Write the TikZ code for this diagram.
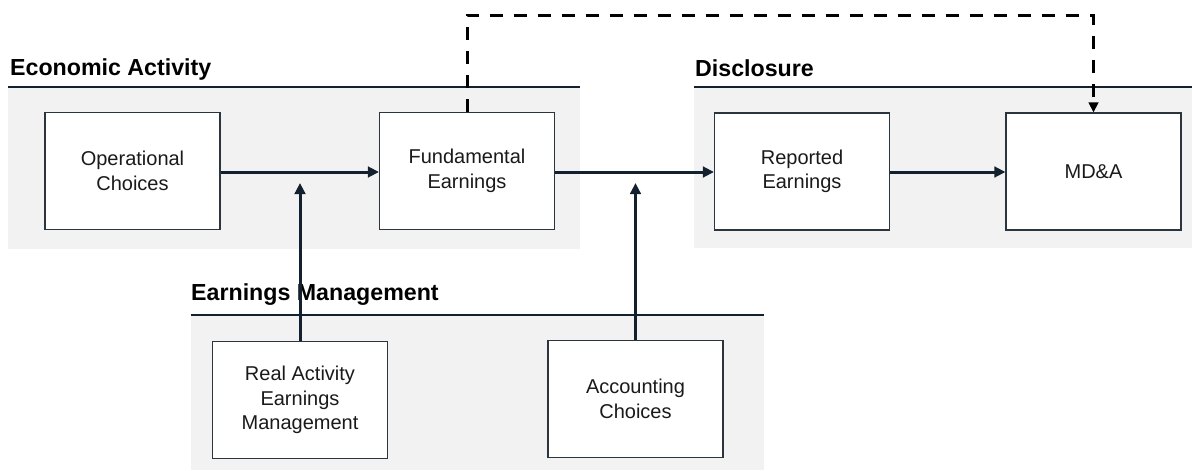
\documentclass[tikz,border=0pt]{standalone}
\usepackage{fontspec}
\setmainfont{Liberation Sans}
\usetikzlibrary{arrows.meta}
\definecolor{panelgray}{HTML}{F2F2F2}
\definecolor{navy}{HTML}{13202D}
\definecolor{boxline}{HTML}{2B3540}
\definecolor{txt}{HTML}{1A1A1A}
\tikzset{
  panel/.style={fill=panelgray, draw=none},
  panelrule/.style={draw=navy, line width=1.6pt},
  paneltitle/.style={anchor=base west, inner sep=0pt, text=black,
    font=\fontsize{23.2}{27}\selectfont\bfseries},
  stagebox/.style={draw=boxline, line width=1.1pt, fill=white,
    minimum width=175pt, minimum height=117pt, inner sep=0pt,
    align=center, text=txt, font=\fontsize{20}{24.5}\selectfont},
  flow/.style={draw=navy, line width=3pt,
    -{Triangle[length=11pt,width=10.5pt]}},
  feedback/.style={draw=black, line width=3pt, dash pattern=on 13pt off 11pt,
    -{Triangle[length=10pt,width=9.5pt]}}
}
\begin{document}
\begin{tikzpicture}[x=1pt, y=-1pt]
  \useasboundingbox (0,0) rectangle (1192,471);
  \fill[white] (0,0) rectangle (1192,471);

  % Shaded panels with their header rules
  \path[panel] (8,87) rectangle (580,249);
  \draw[panelrule] (8,87) -- (580,87);
  \path[panel] (694,87) rectangle (1192,248);
  \draw[panelrule] (694,87) -- (1192,87);
  \path[panel] (191,315) rectangle (764,470);
  \draw[panelrule] (191,315) -- (764,315);

  % Panel titles
  \node[paneltitle] (tEcon) at (10,75) {Economic Activity};
  \node[paneltitle] (tDisc) at (695,76) {Disclosure};
  \node[paneltitle] (tEM) at (191,300) {Earnings Management};

  % Stages
  \node[stagebox] (oc)  at (132.5,171) {Operational\\Choices};
  \node[stagebox] (fe)  at (467,171) {Fundamental\\Earnings};
  \node[stagebox] (re)  at (802,171.5) {Reported\\Earnings};
  \node[stagebox] (mda) at (1093.5,171.5) {MD\&A};
  \node[stagebox] (ra)  at (300,400) {Real Activity\\Earnings\\Management};
  \node[stagebox] (ac)  at (635.5,399) {Accounting\\Choices};

  % Main flow
  \draw[flow] (oc.east |- 0,172) -- (fe.west |- 0,172);
  \draw[flow] (fe.east |- 0,172) -- (re.west |- 0,172);
  \draw[flow] (re.east |- 0,172) -- (mda.west |- 0,172);

  % Earnings-management influences pointing at the flow lines
  \coordinate (raTip) at (300,183);
  \coordinate (acTip) at (635.5,183);
  \draw[flow] (ra.north) -- (raTip);
  \draw[flow] (ac.north) -- (acTip);

  % Dashed feedback from fundamental earnings to MD&A
  \coordinate (fbL) at (467,15);
  \coordinate (fbR) at (1093.5,15);
  \draw[feedback] (fe.north) -- (fbL) -- (fbR) -- (mda.north);
\end{tikzpicture}
\end{document}
